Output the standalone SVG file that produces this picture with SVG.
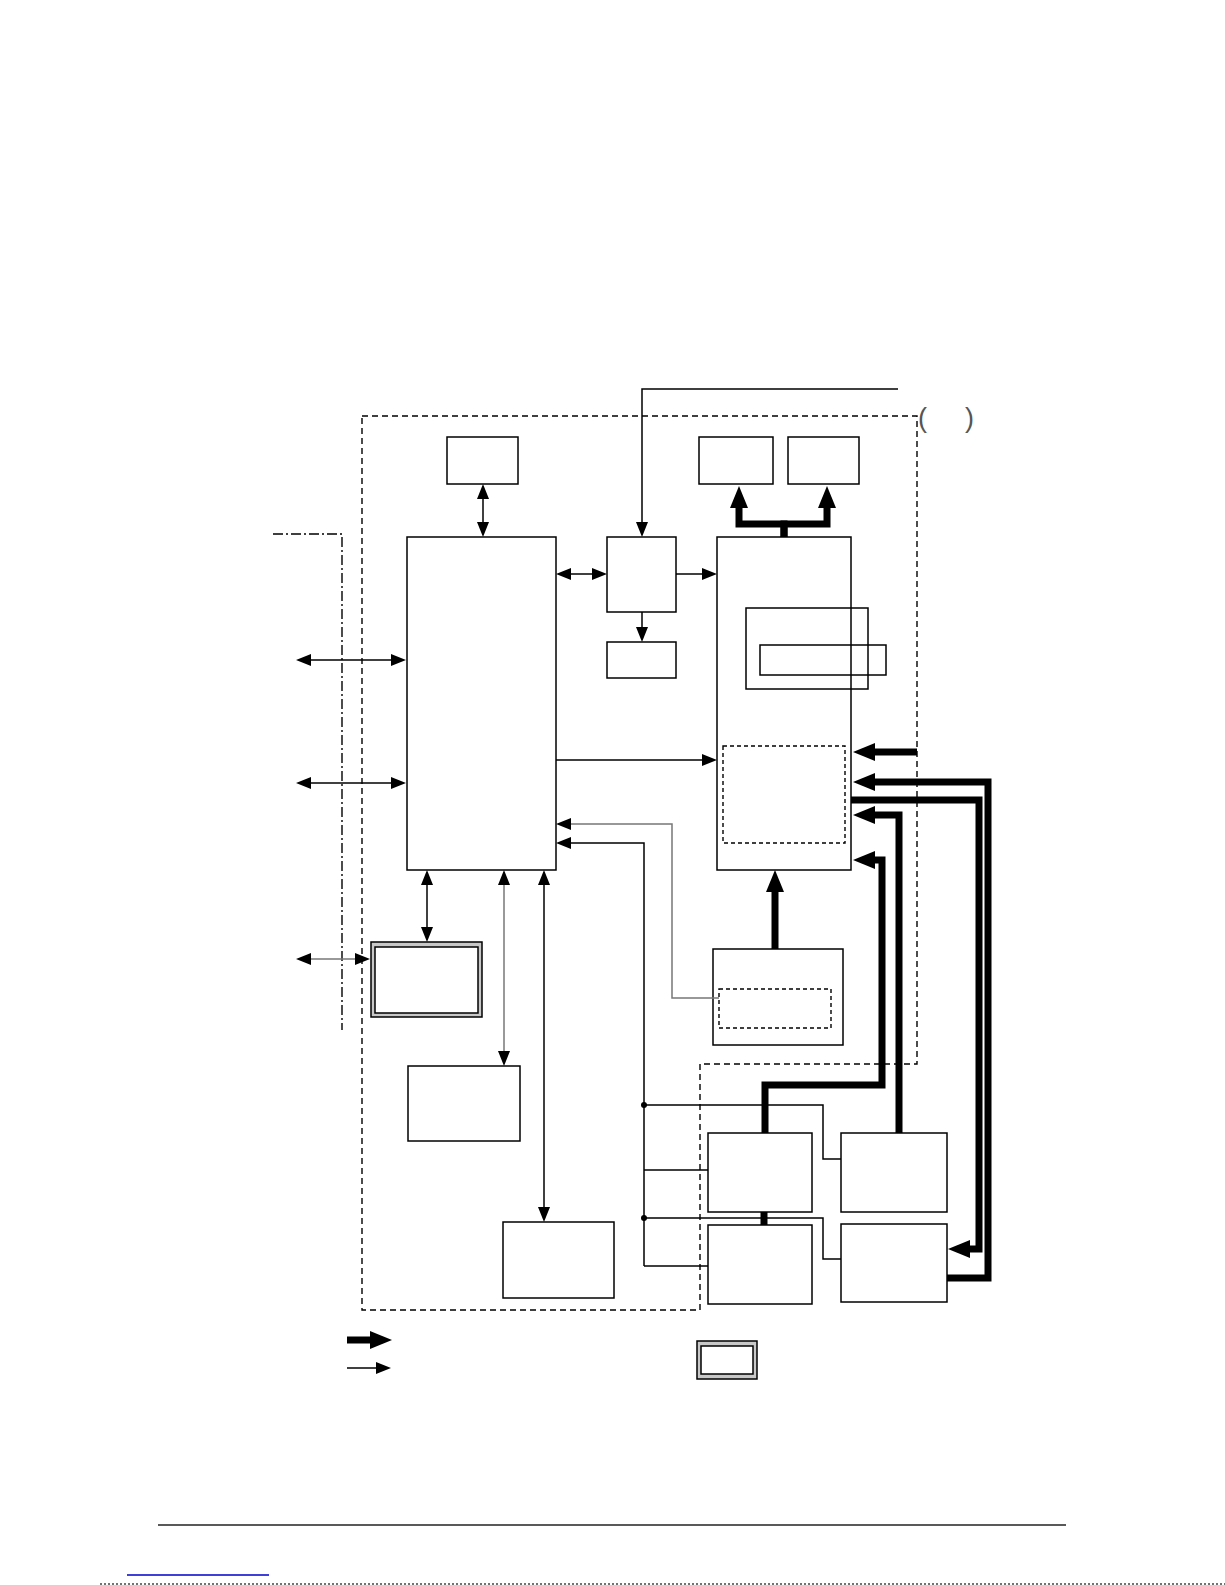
<svg xmlns="http://www.w3.org/2000/svg" width="1225" height="1585" viewBox="0 0 1225 1585">
<style>
.box{fill:none;stroke:#000;stroke-width:1.5}
.wbox{fill:#fff;stroke:#000;stroke-width:1.5}
.gbox{fill:#c8c8c8;stroke:#000;stroke-width:1.5}
.dbox{fill:none;stroke:#000;stroke-width:1.4;stroke-dasharray:4 3}
.outer{fill:none;stroke:#000;stroke-width:1.4;stroke-dasharray:6 4}
.dashdot{fill:none;stroke:#000;stroke-width:1.4;stroke-dasharray:10 3 2 3}
.thin{fill:none;stroke:#000;stroke-width:1.5}
.gray{stroke:#777}
.a1{marker-end:url(#ah)}
.a2{marker-start:url(#ah);marker-end:url(#ah)}
.thick{fill:none;stroke:#000;stroke-width:7;stroke-linejoin:miter}
.at{marker-end:url(#aT)}
.paren{font-family:"Liberation Sans",Arial,sans-serif;font-size:27px;fill:#555}
</style>
<defs>
<marker id="ah" markerUnits="userSpaceOnUse" viewBox="0 0 15 12" markerWidth="15" markerHeight="12" refX="0" refY="6" orient="auto-start-reverse">
<path d="M0,0 L15,6 L0,12 z" fill="#000"/>
</marker>
<marker id="aT" markerUnits="userSpaceOnUse" viewBox="0 0 22 18" markerWidth="22" markerHeight="18" refX="0" refY="9" orient="auto">
<path d="M0,0 L22,9 L0,18 z" fill="#000"/>
</marker>
</defs>
<rect width="1225" height="1585" fill="#fff"/>

<g id="boundaries">
<path class="outer" d="M362,416 H917 V1064 H700 V1310 H362 Z"/>
<path class="dashdot" d="M273,534 H342 V1030"/>
</g>

<g id="top-box"><rect class="box" x="447" y="437" width="71" height="47"/></g>
<g id="main-left"><rect class="box" x="407" y="537" width="149" height="333"/></g>
<g id="mid-box"><rect class="box" x="607" y="537" width="69" height="75"/></g>
<g id="mid-small"><rect class="box" x="607" y="642" width="69" height="36"/></g>
<g id="top-a"><rect class="box" x="699" y="437" width="74" height="47"/></g>
<g id="top-b"><rect class="box" x="788" y="437" width="71" height="47"/></g>
<g id="main-right">
<rect class="box" x="717" y="537" width="134" height="333"/>
<rect class="box" x="746" y="608" width="122" height="81"/>
<rect class="box" x="760" y="645" width="126" height="30"/>
<rect class="dbox" x="723" y="746" width="122" height="97"/>
</g>
<g id="bottom-mid">
<rect class="box" x="713" y="949" width="130" height="96"/>
<rect class="dbox" x="719" y="989" width="112" height="39"/>
</g>
<g id="shadow-box">
<rect class="gbox" x="371" y="942" width="111" height="75"/>
<rect class="wbox" x="375" y="947" width="103" height="66"/>
</g>
<g id="box-l1"><rect class="box" x="408" y="1066" width="112" height="75"/></g>
<g id="box-l2"><rect class="box" x="503" y="1222" width="111" height="76"/></g>
<g id="box-ul"><rect class="box" x="708" y="1133" width="104" height="79"/></g>
<g id="box-ll"><rect class="box" x="708" y="1225" width="104" height="79"/></g>
<g id="box-ur"><rect class="box" x="841" y="1133" width="106" height="79"/></g>
<g id="box-lr"><rect class="box" x="841" y="1224" width="106" height="78"/></g>

<g id="connectors">
<path class="thin a2" d="M311,660 H391"/>
<path class="thin a2" d="M311,783 H391"/>
<path class="thin gray a2" d="M311,959 H355"/>
<path class="thin a2" d="M483,499 V522"/>
<path class="thin a2" d="M427,885 V927"/>
<path class="thin gray a2" d="M504,885 V1051"/>
<path class="thin a2" d="M544,885 V1207"/>
<path class="thin a2" d="M571,574 H592"/>
<path class="thin a1" d="M898,389 H642 V522"/>
<path class="thin a1" d="M676,574 H702"/>
<path class="thin a1" d="M642,612 V627"/>
<path class="thin a1" d="M556,760 H702"/>
<path class="thin gray a1" d="M719,998 H672 V824 H571"/>
<path class="thin a1" d="M644,1266 V843 H571"/>
<path class="thin" d="M644,1105 H823 V1159 H841"/>
<path class="thin" d="M644,1218 H823 V1259 H841"/>
<path class="thin" d="M644,1170 H708"/>
<path class="thin" d="M644,1266 H708"/>
<circle cx="644" cy="1105" r="3" fill="#000"/>
<circle cx="644" cy="1218" r="3" fill="#000"/>

<path class="thick at" d="M784,537 V524 H739 V508"/>
<path class="thick at" d="M784,537 V524 H827 V508"/>
<path class="thick at" d="M775,949 V892"/>
<path class="thick at" d="M917,752 H875"/>
<path class="thick at" d="M947,1278 H988 V782 H875"/>
<path class="thick at" d="M851,800 H979 V1249 H970"/>
<path class="thick at" d="M899,1133 V815 H875"/>
<path class="thick at" d="M765,1133 V1085 H882 V860 H875"/>
<path class="thick" d="M764,1212 V1225"/>
</g>

<g id="legend">
<path class="thick at" d="M347,1340 H370"/>
<path class="thin a1" d="M347,1368 H376"/>
<rect class="gbox" x="697" y="1341" width="60" height="38"/>
<rect class="wbox" x="701" y="1346" width="52" height="28"/>
</g>

<text class="paren" x="918" y="427">(</text>
<text class="paren" x="965" y="427">)</text>

<g id="footer">
<line x1="158" y1="1525" x2="1066" y2="1525" stroke="#222" stroke-width="1.5"/>
<line x1="127" y1="1575" x2="269" y2="1575" stroke="#0000cc" stroke-width="1.5"/>
<line x1="100" y1="1584" x2="1225" y2="1584" stroke="#444" stroke-width="1.5" stroke-dasharray="2 2"/>
</g>
</svg>
